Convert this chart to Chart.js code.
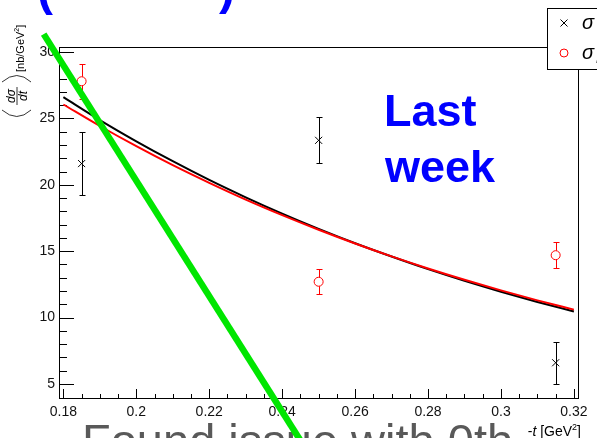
<!DOCTYPE html>
<html>
<head>
<meta charset="utf-8">
<script src="https://cdn.jsdelivr.net/npm/chart.js@4/dist/chart.umd.min.js"></script>
<style>
  html, body { margin: 0; padding: 0; background: #fff; }
  #wrap { width: 597px; height: 438px; }
</style>
</head>
<body>
<div id="wrap"><canvas id="chart" width="597" height="438"></canvas></div>
<script>
// three -t bins with measured cross sections
const tBins = [0.185, 0.25, 0.315];
const sigmaBlack = [21.6, 23.35, 6.6];
const sigmaBlackErr = [2.4, 1.73, 1.58];
const sigmaRed = [27.8, 12.7, 14.7];
const sigmaRedErr = [1.3, 0.95, 1.0];

// fit curves, every 0.01 in -t
const fitT = [0.18, 0.19, 0.20, 0.21, 0.22, 0.23, 0.24, 0.25, 0.26, 0.27, 0.28, 0.29, 0.30, 0.31, 0.32];
const fitBlack = [26.6, 24.88, 23.28, 21.78, 20.37, 19.06, 17.83, 16.68, 15.60, 14.60, 13.65, 12.77, 11.95, 11.18, 10.46];
const fitRed = [26.05, 24.43, 22.91, 21.48, 20.15, 18.89, 17.72, 16.62, 15.58, 14.61, 13.70, 12.85, 12.05, 11.30, 10.60];

// green strike-through drawn over the slide, ends in axis units
const greenT = [0.1746, 0.2449];
const greenY = [31.35, 0.79];

const xTicks = [0.18, 0.2, 0.22, 0.24, 0.26, 0.28, 0.3, 0.32];
const yTicks = [5, 10, 15, 20, 25, 30];
const legendLabels = ['σ', 'σ'];
const legendSubs = ['T', 'L'];

const FONT = '"Liberation Sans", Arial, Helvetica, sans-serif';
Chart.defaults.font.family = FONT;

const ctxEl = document.getElementById('chart');

function pts(xs, ys) {
    return xs.map((v, i) => ({ x: v, y: ys[i] }));
}

function drawErrors(ctx, xs, xScale, yScale, vals, errs, color, gap) {
    ctx.strokeStyle = color;
    ctx.lineWidth = 1;
    ctx.beginPath();
    for (let i = 0; i < xs.length; i++) {
        const px = Math.round(xScale.getPixelForValue(xs[i])) + 0.5;
        const pc = yScale.getPixelForValue(vals[i]);
        const ph = Math.round(yScale.getPixelForValue(vals[i] + errs[i])) + 0.5;
        const pl = Math.round(yScale.getPixelForValue(vals[i] - errs[i])) + 0.5;
        ctx.moveTo(px, ph); ctx.lineTo(px, pc - gap);
        ctx.moveTo(px, pc + gap); ctx.lineTo(px, pl);
        ctx.moveTo(px - 3, ph); ctx.lineTo(px + 3, ph);
        ctx.moveTo(px - 3, pl); ctx.lineTo(px + 3, pl);
    }
    ctx.stroke();
}

const framePlugin = {
    id: 'frame',
    beforeDatasetsDraw(chart) {
        const { ctx, chartArea: a, scales: { x, y } } = chart;
        ctx.save();
        ctx.strokeStyle = '#000';
        ctx.lineWidth = 1;
        ctx.strokeRect(a.left + 0.5, a.top + 0.5, a.right - a.left - 1, a.bottom - a.top - 1);

        // ticks point into the frame, ROOT style
        ctx.beginPath();
        for (let k = 0; k <= 28; k++) {
            const v = 0.18 + k * 0.005;
            const px = Math.round(x.getPixelForValue(v)) + 0.5;
            const len = (k % 4 === 0) ? 10 : 5;
            ctx.moveTo(px, a.bottom); ctx.lineTo(px, a.bottom - len);
        }
        for (let v = 5; v <= 30; v++) {
            const py = Math.round(y.getPixelForValue(v)) + 0.5;
            const len = (v % 5 === 0) ? 15 : 8;
            ctx.moveTo(a.left, py); ctx.lineTo(a.left + len, py);
        }
        ctx.stroke();

        drawErrors(ctx, tBins, x, y, sigmaBlack, sigmaBlackErr, '#000', 0);
        drawErrors(ctx, tBins, x, y, sigmaRed, sigmaRedErr, '#f00', 4.5);

        // slide text layered under the green stroke
        ctx.fillStyle = '#0000ff';
        ctx.font = 'bold 45px ' + FONT;
        ctx.textAlign = 'left';
        ctx.textBaseline = 'alphabetic';
        ctx.fillText('Last', 384, 126);
        ctx.fillText('week', 385, 182);

        ctx.font = 'bold 48px ' + FONT;
        ctx.fillText('(', 37, 5);
        ctx.fillText(')', 219, 4);

        ctx.fillStyle = '#595959';
        ctx.font = '47px ' + FONT;
        ctx.fillText('Found issue with 0th', 82, 457);
        ctx.restore();
    },
    afterDraw(chart) {
        const { ctx, data } = chart;
        ctx.save();

        // legend box, cut by the right edge
        ctx.fillStyle = '#fff';
        ctx.fillRect(547, 8, 60, 61);
        ctx.strokeStyle = '#000';
        ctx.lineWidth = 1;
        ctx.strokeRect(547.5, 8.5, 60, 61);

        const ds1 = data.datasets[1];
        const ds2 = data.datasets[2];
        ctx.strokeStyle = ds1.borderColor;
        ctx.beginPath();
        ctx.moveTo(560.5, 19.5); ctx.lineTo(567.5, 26.5);
        ctx.moveTo(567.5, 19.5); ctx.lineTo(560.5, 26.5);
        ctx.stroke();
        ctx.strokeStyle = ds2.borderColor;
        ctx.beginPath();
        ctx.arc(564, 53, 4, 0, Math.PI * 2);
        ctx.stroke();

        ctx.fillStyle = '#000';
        ctx.textAlign = 'left';
        ctx.font = 'italic 20px ' + FONT;
        ctx.fillText(legendLabels[0], 582, 29);
        ctx.fillText(legendLabels[1], 582, 59);
        ctx.font = 'italic 12px ' + FONT;
        ctx.fillText(legendSubs[0], 596, 33);
        ctx.fillText(legendSubs[1], 596, 63);

        // x title
        ctx.font = '14px ' + FONT;
        ctx.textAlign = 'right';
        ctx.fillText(']', 581, 436);
        let xr = 581 - ctx.measureText(']').width;
        ctx.font = '9px ' + FONT;
        ctx.fillText('2', xr, 430);
        xr -= ctx.measureText('2').width;
        ctx.font = '14px ' + FONT;
        ctx.fillText(' [GeV', xr, 436);
        xr -= ctx.measureText(' [GeV').width;
        ctx.font = 'italic 14px ' + FONT;
        ctx.fillText('t', xr, 436);
        xr -= ctx.measureText('t').width;
        ctx.font = '14px ' + FONT;
        ctx.fillText('-', xr, 436);

        // y title: <dsigma/dt> [nb/GeV^2], rotated
        ctx.save();
        ctx.translate(24, 72);
        ctx.rotate(-Math.PI / 2);
        ctx.textAlign = 'left';
        ctx.font = '11px ' + FONT;
        ctx.fillText('[nb/GeV', 0, 0);
        let u = ctx.measureText('[nb/GeV').width;
        ctx.font = '7px ' + FONT;
        ctx.fillText('2', u, -5);
        u += ctx.measureText('2').width;
        ctx.font = '11px ' + FONT;
        ctx.fillText(']', u, 0);
        ctx.restore();

        ctx.save();
        ctx.translate(17, 96);
        ctx.rotate(-Math.PI / 2);
        ctx.textAlign = 'center';
        ctx.font = 'italic 12px ' + FONT;
        ctx.fillText('dσ', 0, -2);
        ctx.fillText('dt', 0, 10);
        ctx.strokeStyle = '#000';
        ctx.lineWidth = 0.8;
        ctx.beginPath();
        ctx.moveTo(-9, 0); ctx.lineTo(9, 0);
        ctx.moveTo(-14, -15); ctx.quadraticCurveTo(-27, 0, -14, 14);
        ctx.moveTo(14, -15); ctx.quadraticCurveTo(27, 0, 14, 14);
        ctx.stroke();
        ctx.restore();

        ctx.restore();
    }
};

new Chart(ctxEl, {
    type: 'scatter',
    data: {
        datasets: [
            {
                label: 'strike',
                data: pts(greenT, greenY),
                showLine: true,
                borderColor: '#00e600',
                borderWidth: 6.5,
                pointRadius: 0,
                clip: false,
                order: -1
            },
            {
                label: legendLabels[0] + legendSubs[0],
                data: pts(tBins, sigmaBlack),
                pointStyle: 'crossRot',
                pointRadius: 5,
                borderColor: '#000',
                borderWidth: 1
            },
            {
                label: legendLabels[1] + legendSubs[1],
                data: pts(tBins, sigmaRed),
                pointStyle: 'circle',
                pointRadius: 4.5,
                borderColor: '#f00',
                backgroundColor: 'rgba(0,0,0,0)',
                borderWidth: 1
            },
            {
                label: 'fit red',
                data: pts(fitT, fitRed),
                showLine: true,
                cubicInterpolationMode: 'monotone',
                borderColor: '#f00',
                borderWidth: 2,
                pointRadius: 0
            },
            {
                label: 'fit black',
                data: pts(fitT, fitBlack),
                showLine: true,
                cubicInterpolationMode: 'monotone',
                borderColor: '#000',
                borderWidth: 2,
                pointRadius: 0
            }
        ]
    },
    options: {
        responsive: false,
        animation: false,
        events: [],
        layout: { padding: { left: 0, top: 47, right: 18, bottom: 0 } },
        plugins: {
            legend: { display: false },
            tooltip: { enabled: false }
        },
        scales: {
            x: {
                type: 'linear',
                min: 0.1788,
                max: 0.3214,
                grid: { display: false, drawTicks: false },
                border: { display: false },
                afterBuildTicks: (s) => { s.ticks = xTicks.map(v => ({ value: v })); },
                afterFit: (s) => { s.height = 39; },
                ticks: {
                    padding: 5,
                    autoSkip: false,
                    maxRotation: 0,
                    color: '#111',
                    font: { size: 14 },
                    callback: (v) => String(+v.toFixed(2))
                }
            },
            y: {
                type: 'linear',
                min: 3.87,
                max: 30.38,
                grid: { display: false, drawTicks: false },
                border: { display: false },
                afterBuildTicks: (s) => { s.ticks = yTicks.map(v => ({ value: v })); },
                afterFit: (s) => { s.width = 59; },
                ticks: {
                    padding: 4,
                    autoSkip: false,
                    color: '#111',
                    font: { size: 14 },
                    callback: (v) => String(v)
                }
            }
        }
    },
    plugins: [framePlugin]
});
</script>
</body>
</html>
